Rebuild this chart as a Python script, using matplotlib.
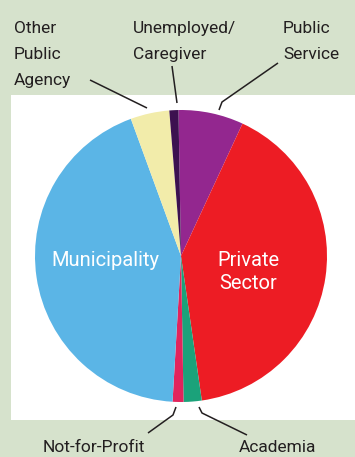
import matplotlib
matplotlib.use("Agg")
import matplotlib.pyplot as plt
from matplotlib.patches import Rectangle

# sector shares (%), clockwise from 12 o'clock
sectors = ["Public Service", "Private Sector", "Academia", "Not-for-Profit",
           "Municipality", "Other Public Agency", "Unemployed/Caregiver"]
shares = [7.2, 40.8, 2.0, 1.2, 43.5, 4.3, 1.0]
colors = ["#93278f", "#ed1c24", "#1ba27a", "#e2245c",
          "#5bb5e6", "#f2ecaa", "#3c1150"]

plt.rcParams["font.family"] = ["Roboto", "DejaVu Sans"]

W, H = 355, 457
fig = plt.figure(figsize=(W / 100, H / 100), dpi=100)
fig.patch.set_facecolor("#d6e2cc")
ax = fig.add_axes([0, 0, 1, 1])

def Y(y):
    # pixel row -> data y
    return H - y

ax.add_patch(Rectangle((11, Y(420)), W - 11, 325, facecolor="white", edgecolor="none", zorder=0))

ax.pie(shares, colors=colors, startangle=91, counterclock=False,
       center=(181, Y(256)), radius=146, frame=True,
       wedgeprops=dict(linewidth=0, antialiased=True))
ax.set_xlim(0, W)
ax.set_ylim(0, H)
ax.set_aspect("equal")
ax.axis("off")

txt = dict(color="#231f20", fontsize=12.5, va="top", ha="left", linespacing=1.9)
ax.text(14, Y(21), "Other\nPublic\nAgency", **txt)
ax.text(133, Y(21), "Unemployed/\nCaregiver", **txt)
ax.text(283, Y(21), "Public\nService", **txt)
ax.text(43, Y(440), "Not-for-Profit", **txt)
ax.text(239, Y(440), "Academia", **txt)

ax.text(105, Y(260), "Municipality", color="white", fontsize=14.5, ha="center", va="center")
ax.text(248, Y(272), "Private\nSector", color="white", fontsize=14.5, ha="center", va="center",
        linespacing=1.3)

# leader lines from labels to their slices
lines = [
    [(90, 80), (147, 108)],
    [(172, 66), (177, 103)],
    [(278, 63), (222, 102), (219, 110)],
    [(148, 433), (173, 415), (176, 407)],
    [(199, 407), (202, 413), (247, 435)],
]
for pts in lines:
    xs = [p[0] for p in pts]
    ys = [Y(p[1]) for p in pts]
    ax.plot(xs, ys, color="#231f20", lw=1.1, solid_capstyle="butt")

fig.savefig("out.png", dpi=100, facecolor=fig.get_facecolor())
